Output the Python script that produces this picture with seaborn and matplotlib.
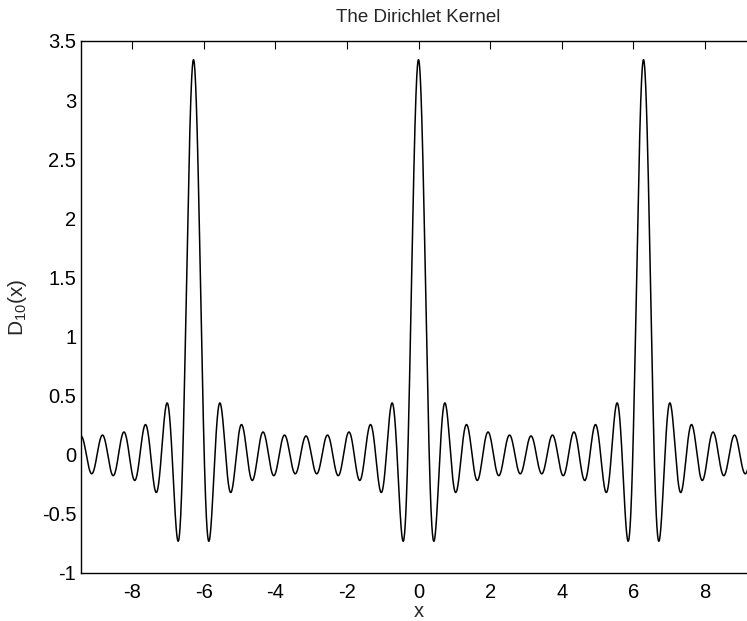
import numpy as np
import pandas as pd
import matplotlib
matplotlib.use("Agg")
import matplotlib.pyplot as plt
import seaborn as sns

# Dirichlet kernel order and plotting window
N_TERMS = 10
X_LIMITS = (-3 * np.pi, 3 * np.pi)
Y_LIMITS = (-1, 3.5)
X_TICKS = [-8, -6, -4, -2, 0, 2, 4, 6, 8]
Y_TICKS = [-1, -0.5, 0, 0.5, 1, 1.5, 2, 2.5, 3, 3.5]
Y_TICK_LABELS = ["-1", "-0.5", "0", "0.5", "1", "1.5", "2", "2.5", "3", "3.5"]
X_TICK_LABELS = ["-8", "-6", "-4", "-2", "0", "2", "4", "6", "8"]
TITLE = "The Dirichlet Kernel"
X_LABEL = "x"
Y_LABEL = "D$_{10}$(x)"


def dirichlet(x, n):
    """D_n(x) = sin((n + 1/2) x) / (2 pi sin(x / 2)), with the limit at multiples of 2 pi."""
    s = np.sin(x / 2.0)
    out = np.empty_like(x)
    small = np.abs(s) < 1e-12
    out[~small] = np.sin((n + 0.5) * x[~small]) / (2 * np.pi * s[~small])
    out[small] = (2 * n + 1) / (2 * np.pi)
    return out


x = np.linspace(X_LIMITS[0], X_LIMITS[1], 4001)
df = pd.DataFrame({"x": x, "D": dirichlet(x, N_TERMS)})

sns.set_theme(style="white")
plt.rcParams["font.family"] = ["Liberation Sans", "DejaVu Sans"]
plt.rcParams["mathtext.fontset"] = "custom"
plt.rcParams["mathtext.rm"] = "Liberation Sans"
plt.rcParams["mathtext.it"] = "Liberation Sans"
plt.rcParams["mathtext.default"] = "regular"

fig = plt.figure(figsize=(7.47, 6.21), dpi=100)
ax = fig.add_axes([81 / 747, 48 / 621, (756 - 81) / 747, (573 - 41) / 621])

sns.lineplot(data=df, x="x", y="D", ax=ax, color="black", linewidth=1.1)

ax.set_xlim(*X_LIMITS)
ax.set_ylim(*Y_LIMITS)
ax.set_xticks(X_TICKS)
ax.set_xticklabels(X_TICK_LABELS)
ax.set_yticks(Y_TICKS)
ax.set_yticklabels(Y_TICK_LABELS)

ax.tick_params(axis="both", direction="in", length=6, width=0.8, colors="black",
               labelsize=14.5, top=True, right=True)
ax.tick_params(axis="x", pad=7)
ax.tick_params(axis="y", pad=3.5)
for sp in ax.spines.values():
    sp.set_visible(True)
    sp.set_color("black")
    sp.set_linewidth(1.0)

ax.set_title(TITLE, fontsize=13.5, pad=14)
ax.set_xlabel(X_LABEL, fontsize=14.5, labelpad=0)
ax.set_ylabel(Y_LABEL, fontsize=15, labelpad=9)

fig.savefig("out.png", dpi=100)
